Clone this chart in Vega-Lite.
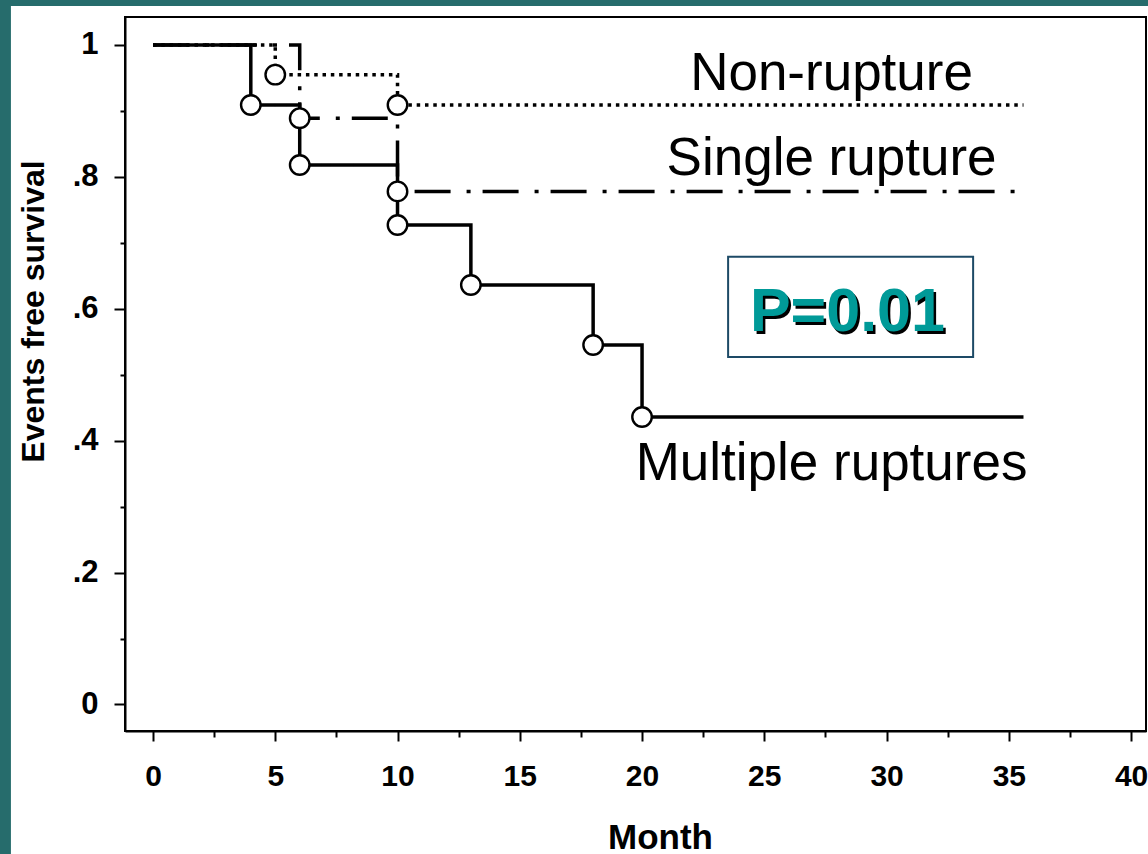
{
  "$schema": "https://vega.github.io/schema/vega-lite/v6.json",
  "width": 1021,
  "height": 714,
  "autosize": {"type": "none"},
  "padding": {"left": 125, "top": 17, "right": 2, "bottom": 123},
  "background": "white",
  "config": {
    "view": {"stroke": "black", "strokeWidth": 2},
    "font": "Liberation Sans",
    "axis": {"zindex": 1, "grid": false}
  },
  "datasets": {
    "curves": [
      {"group": "Non-rupture", "month": 0, "surv": 1},
      {"group": "Non-rupture", "month": 5, "surv": 0.955},
      {"group": "Non-rupture", "month": 10, "surv": 0.909},
      {"group": "Non-rupture", "month": 35.6, "surv": 0.909},
      {"group": "Single rupture", "month": 0, "surv": 1},
      {"group": "Single rupture", "month": 6, "surv": 0.889},
      {"group": "Single rupture", "month": 10, "surv": 0.778},
      {"group": "Single rupture", "month": 35.6, "surv": 0.778},
      {"group": "Multiple ruptures", "month": 0, "surv": 1},
      {"group": "Multiple ruptures", "month": 4, "surv": 0.909},
      {"group": "Multiple ruptures", "month": 6, "surv": 0.818},
      {"group": "Multiple ruptures", "month": 10, "surv": 0.727},
      {"group": "Multiple ruptures", "month": 13, "surv": 0.636},
      {"group": "Multiple ruptures", "month": 18, "surv": 0.545},
      {"group": "Multiple ruptures", "month": 20, "surv": 0.436},
      {"group": "Multiple ruptures", "month": 35.6, "surv": 0.436}
    ],
    "events": [
      {"group": "Non-rupture", "month": 5, "surv": 0.955},
      {"group": "Non-rupture", "month": 10, "surv": 0.909},
      {"group": "Single rupture", "month": 6, "surv": 0.889},
      {"group": "Single rupture", "month": 10, "surv": 0.778},
      {"group": "Multiple ruptures", "month": 4, "surv": 0.909},
      {"group": "Multiple ruptures", "month": 6, "surv": 0.818},
      {"group": "Multiple ruptures", "month": 10, "surv": 0.727},
      {"group": "Multiple ruptures", "month": 13, "surv": 0.636},
      {"group": "Multiple ruptures", "month": 18, "surv": 0.545},
      {"group": "Multiple ruptures", "month": 20, "surv": 0.436}
    ],
    "one": [{}]
  },
  "layer": [
    {
      "data": {"name": "curves"},
      "mark": {"type": "line", "interpolate": "step-after", "color": "black", "strokeWidth": 3.5, "strokeCap": "butt"},
      "encoding": {
        "x": {
          "field": "month", "type": "quantitative",
          "scale": {"domain": [-1.145, 40.61], "nice": false, "zero": false},
          "axis": {
            "title": "Month",
            "values": [0, 2.5, 5, 7.5, 10, 12.5, 15, 17.5, 20, 22.5, 25, 27.5, 30, 32.5, 35, 37.5, 40],
            "labelExpr": "datum.value % 5 === 0 ? format(datum.value, 'd') : ''",
            "domainColor": "black", "domainWidth": 2,
            "tickColor": "black", "tickWidth": 2,
            "tickSize": {"condition": {"test": "datum.value % 5 === 0", "value": 10}, "value": 6},
            "labelFont": "Liberation Sans", "labelFontWeight": "bold", "labelFontSize": 30, "labelColor": "black",
            "labelPadding": 20,
            "titleFont": "Liberation Sans", "titleFontWeight": "bold", "titleFontSize": 35, "titleColor": "black",
            "titleX": 535, "titleY": 117, "titleBaseline": "alphabetic", "titleAlign": "center"
          }
        },
        "y": {
          "field": "surv", "type": "quantitative",
          "scale": {"domain": [-0.0402, 1.0424], "nice": false, "zero": false},
          "axis": {
            "title": "Events free survival",
            "values": [0, 0.05, 0.1, 0.15, 0.2, 0.25, 0.3, 0.35, 0.4, 0.45, 0.5, 0.55, 0.6, 0.65, 0.7, 0.75, 0.8, 0.85, 0.9, 0.95, 1],
            "labelExpr": "abs(datum.value*5 - round(datum.value*5)) < 0.001 ? (datum.value == 0 ? '0' : (datum.value == 1 ? '1' : replace(format(datum.value, '.1f'), '0.', '.'))) : ''",
            "domainColor": "black", "domainWidth": 2,
            "tickColor": "black", "tickWidth": 2,
            "tickSize": {"condition": {"test": "abs(datum.value*5 - round(datum.value*5)) < 0.001", "value": 11}, "value": 5},
            "labelFont": "Liberation Sans", "labelFontWeight": "bold", "labelFontSize": 31, "labelColor": "black",
            "labelPadding": 16,
            "titleFont": "Liberation Sans", "titleFontWeight": "bold", "titleFontSize": 32, "titleColor": "black",
            "titleX": -82, "titleY": 294, "titleBaseline": "alphabetic", "titleAlign": "center", "titleAngle": 270
          }
        },
        "strokeDash": {
          "field": "group", "type": "nominal",
          "scale": {"domain": ["Non-rupture", "Single rupture", "Multiple ruptures"], "range": [[3.5, 4.8], [36, 16, 4, 12], [1, 0]]},
          "legend": null
        }
      }
    },
    {
      "data": {"name": "events"},
      "mark": {"type": "point", "shape": "circle", "filled": true, "fill": "white", "stroke": "black", "strokeWidth": 2.4, "size": 380, "opacity": 1},
      "encoding": {
        "x": {"field": "month", "type": "quantitative"},
        "y": {"field": "surv", "type": "quantitative"}
      }
    },
    {
      "data": {"name": "one"},
      "mark": {"type": "rect", "color": "#266c6c"},
      "encoding": {
        "x": {"datum": -8, "type": "quantitative"},
        "x2": {"datum": -5.81},
        "y": {"datum": 1.35, "type": "quantitative"},
        "y2": {"datum": -0.5}
      }
    },
    {
      "data": {"name": "one"},
      "mark": {"type": "rect", "color": "#266c6c"},
      "encoding": {
        "x": {"datum": -8, "type": "quantitative"},
        "x2": {"datum": 45},
        "y": {"datum": 1.35, "type": "quantitative"},
        "y2": {"datum": 1.059}
      }
    },
    {
      "data": {"name": "one"},
      "mark": {"type": "rect", "fill": "white", "stroke": "#1d4a66", "strokeWidth": 2},
      "encoding": {
        "x": {"datum": 23.52, "type": "quantitative"},
        "x2": {"datum": 33.54},
        "y": {"datum": 0.679, "type": "quantitative"},
        "y2": {"datum": 0.527}
      }
    },
    {
      "data": {"name": "one"},
      "mark": {"type": "text", "text": "P=0.01", "font": "Liberation Sans", "fontWeight": "bold", "fontSize": 61, "align": "center", "baseline": "alphabetic", "color": "black", "dx": 2.5, "dy": 2.5},
      "encoding": {
        "x": {"datum": 28.4, "type": "quantitative"},
        "y": {"datum": 0.5656, "type": "quantitative"}
      }
    },
    {
      "data": {"name": "one"},
      "mark": {"type": "text", "text": "P=0.01", "font": "Liberation Sans", "fontWeight": "bold", "fontSize": 61, "align": "center", "baseline": "alphabetic", "color": "#009a98"},
      "encoding": {
        "x": {"datum": 28.4, "type": "quantitative"},
        "y": {"datum": 0.5656, "type": "quantitative"}
      }
    },
    {
      "data": {"name": "one"},
      "mark": {"type": "text", "text": "Non-rupture", "font": "Liberation Sans", "fontSize": 53, "align": "center", "baseline": "alphabetic", "color": "black"},
      "encoding": {
        "x": {"datum": 27.75, "type": "quantitative"},
        "y": {"datum": 0.9318, "type": "quantitative"}
      }
    },
    {
      "data": {"name": "one"},
      "mark": {"type": "text", "text": "Single rupture", "font": "Liberation Sans", "fontSize": 53, "align": "center", "baseline": "alphabetic", "color": "black"},
      "encoding": {
        "x": {"datum": 27.75, "type": "quantitative"},
        "y": {"datum": 0.803, "type": "quantitative"}
      }
    },
    {
      "data": {"name": "one"},
      "mark": {"type": "text", "text": "Multiple ruptures", "font": "Liberation Sans", "fontSize": 53, "align": "center", "baseline": "alphabetic", "color": "black"},
      "encoding": {
        "x": {"datum": 27.75, "type": "quantitative"},
        "y": {"datum": 0.341, "type": "quantitative"}
      }
    }
  ]
}
